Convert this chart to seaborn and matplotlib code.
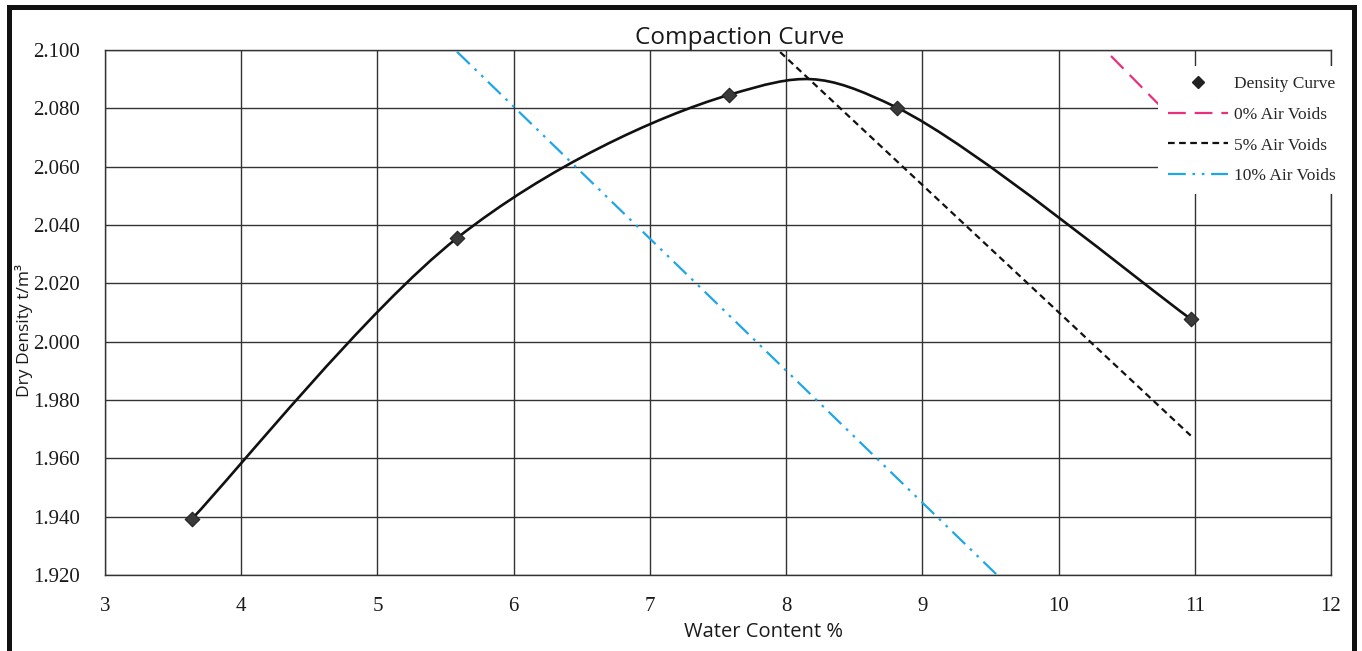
import numpy as np
import pandas as pd

import matplotlib.pyplot as plt
import seaborn as sns
from matplotlib.path import Path
from matplotlib.patches import PathPatch, Rectangle
from matplotlib.lines import Line2D

# =====================
# DATA
# =====================

water_content = [3.64, 5.584, 7.58, 8.815, 10.97]
dry_density = [1.9393, 2.0355, 2.0846, 2.0802, 2.0078]

void_x = [5.584, 7.58, 8.815, 10.97]
air_void_0 = [2.3100, 2.2182, 2.1724, 2.0702]
air_void_5 = [2.2028, 2.1157, 2.0618, 1.9678]
air_void_10 = [2.0994, 2.0091, 1.9532, 1.8557]

x_ticks = [3, 4, 5, 6, 7, 8, 9, 10, 11, 12]
y_ticks = [1.920, 1.940, 1.960, 1.980, 2.000, 2.020, 2.040, 2.060, 2.080, 2.100]

pts = pd.DataFrame({"w": water_content, "rho": dry_density})
voids = pd.DataFrame({
    "w": void_x * 3,
    "rho": air_void_0 + air_void_5 + air_void_10,
    "line": ["0% Air Voids"] * 4 + ["5% Air Voids"] * 4 + ["10% Air Voids"] * 4,
})

# =====================
# FIGURE
# =====================

sns.set_style("white")
plt.rcParams["font.family"] = ["Liberation Serif", "DejaVu Serif"]

fig = plt.figure(figsize=(13.62, 6.51), dpi=100)
ax = fig.add_axes([105 / 1362, 76 / 651, 1226 / 1362, 525 / 651])

grid_col = "#333333"
line_col = "#111111"
pink = "#E8307F"
blue = "#1FA6E6"

# air voids lines
styles = {
    "0% Air Voids": dict(color=pink, dashes=(8, 4)),
    "5% Air Voids": dict(color=line_col, dashes=(3, 2)),
    "10% Air Voids": dict(color=blue, dashes=(8, 3, 1.2, 3, 1.2, 3)),
}
for name, st in styles.items():
    sub = voids[voids["line"] == name]
    sns.lineplot(data=sub, x="w", y="rho", ax=ax, color=st["color"],
                 lw=1.6, legend=False, zorder=3)
    ax.lines[-1].set_dashes(st["dashes"])

# smoothed density curve (Excel style bezier through points)
P = np.column_stack([water_content, dry_density])
n = len(P)
verts = [P[0]]
codes = [Path.MOVETO]
for i in range(n - 1):
    p_prev = P[i - 1] if i > 0 else P[i]
    p_next2 = P[i + 2] if i + 2 < n else P[i + 1]
    c1 = P[i] + (P[i + 1] - p_prev) / 6
    c2 = P[i + 1] - (p_next2 - P[i]) / 6
    verts += [c1, c2, P[i + 1]]
    codes += [Path.CURVE4] * 3
ax.add_patch(PathPatch(Path(verts, codes), fill=False, ec=line_col,
                       lw=1.9, zorder=4))

sns.scatterplot(data=pts, x="w", y="rho", ax=ax, marker="D", s=55,
                color="#3a3a3a", edgecolor="#222222", linewidth=0.8,
                zorder=5, legend=False)

# =====================
# AXES
# =====================

ax.set_xlim(3, 12)
ax.set_ylim(1.920, 2.100)
ax.set_xticks(x_ticks)
ax.set_yticks(y_ticks)
ax.set_yticklabels([f"{v:.3f}" for v in y_ticks])
ax.grid(True, color=grid_col, lw=1.0)
for s in ax.spines.values():
    s.set_color(grid_col)
    s.set_linewidth(1.0)
ax.tick_params(axis="x", length=6, width=1.0, color=grid_col,
               labelsize=15, pad=10, labelcolor="#1a1a1a")
ax.tick_params(axis="y", length=0, labelsize=15, pad=18,
               labelcolor="#1a1a1a")
ax.set_axisbelow(True)

ax.set_title("Compaction Curve", family=["Open Sans", "DejaVu Sans"],
             fontsize=17.5, x=0.518, pad=4, color="#1a1a1a")
ax.set_xlabel("Water Content %", family=["Open Sans", "DejaVu Sans"],
              fontsize=14.5, color="#1a1a1a")
ax.set_ylabel("Dry Density t/m³", family=["Open Sans", "DejaVu Sans"],
              fontsize=12.5, color="#1a1a1a")
ax.xaxis.set_label_coords(0.5375, -0.09)
ax.yaxis.set_label_coords(-0.059, 0.465)

# =====================
# LEGEND
# =====================

handles = [
    Line2D([], [], ls="none", marker="D", ms=6.5, color="#222222"),
    Line2D([], [], color=pink, lw=1.6, dashes=(8, 4)),
    Line2D([], [], color=line_col, lw=1.6, dashes=(3, 2)),
    Line2D([], [], color=blue, lw=1.6, dashes=(8, 3, 1.2, 3, 1.2, 3)),
]
labels = ["Density Curve", "0% Air Voids", "5% Air Voids", "10% Air Voids"]
leg = fig.legend(handles, labels, loc="upper left",
                 bbox_to_anchor=(1158 / 1362, 1 - 66 / 651),
                 frameon=True, facecolor="white", edgecolor="none",
                 framealpha=1, fancybox=False, fontsize=12.5,
                 handlelength=3.5, handletextpad=0.3, labelspacing=0.85,
                 borderpad=0.55, borderaxespad=0)
leg.set_zorder(10)

# figure border
fig.patches.append(Rectangle((9 / 1362, -0.02), 1345 / 1362, 1.02 - 7 / 651,
                             transform=fig.transFigure, fill=False,
                             ec="#111111", lw=3.6))

fig.savefig("out.png", dpi=100)
